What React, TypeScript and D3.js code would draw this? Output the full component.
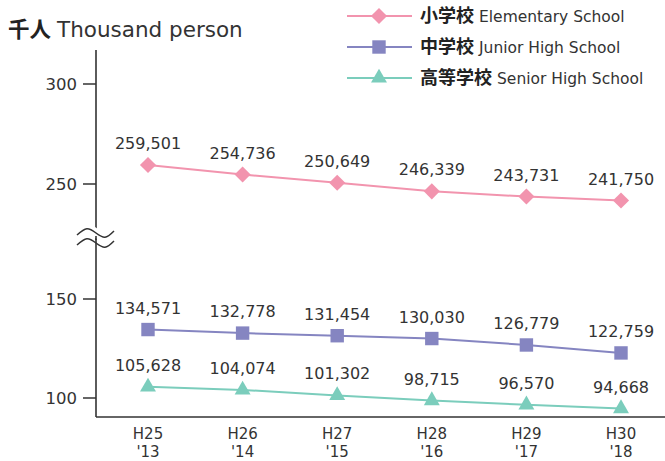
import React from 'react';
import * as d3 from 'd3';

const years = ['H25', 'H26', 'H27', 'H28', 'H29', 'H30'];
const yearsWestern = ["'13", "'14", "'15", "'16", "'17", "'18"];
const elementary = [259.501, 254.736, 250.649, 246.339, 243.731, 241.75];
const juniorHigh = [134.571, 132.778, 131.454, 130.03, 126.779, 122.759];
const seniorHigh = [105.628, 104.074, 101.302, 98.715, 96.57, 94.668];
const lowerTicks = [100, 150];
const upperTicks = [250, 300];

const FONT = '"DejaVu Sans", "Noto Sans CJK JP", sans-serif';
const CJK = '"Noto Sans CJK JP", sans-serif';
const INK = '#333';

const series = [
  { ja: '小学校', en: 'Elementary School', values: elementary, color: '#f294ae', shape: 'diamond' },
  { ja: '中学校', en: 'Junior High School', values: juniorHigh, color: '#8585c1', shape: 'square' },
  { ja: '高等学校', en: 'Senior High School', values: seniorHigh, color: '#7bcdbc', shape: 'triangle' },
];

const fmt = d3.format(',');

// two pieces of the broken y axis
const yLower = d3.scaleLinear().domain([100, 150]).range([398, 299]);
const yUpper = d3.scaleLinear().domain([250, 300]).range([184, 84]);
const y = (v: number) => (v < 200 ? yLower(v) : yUpper(v));

const x = d3.scalePoint<string>().domain(years).range([148, 621]);

const axisX = 96;
const axisBottom = 417;

const symbolFor = (shape: string) => {
  if (shape === 'diamond') return d3.symbol().type(d3.symbolSquare).size(130)();
  if (shape === 'square') return d3.symbol().type(d3.symbolSquare).size(180)();
  return d3.symbol().type(d3.symbolTriangle).size(110)();
};

const Marker = ({ shape, color, cx, cy }: { shape: string; color: string; cx: number; cy: number }) => (
  <path
    d={symbolFor(shape) || ''}
    fill={color}
    transform={`translate(${cx},${cy})${shape === 'diamond' ? ' rotate(45)' : ''}`}
  />
);

export default function App() {
  const line = d3.line<number>().x((_, i) => x(years[i]) as number).y(d => y(d));
  const wave = (yy: number) => `M77,${yy + 2} C86,${yy - 6} 88,${yy - 6} 96,${yy} C104,${yy + 6} 106,${yy + 6} 114,${yy - 2}`;

  return (
    <svg width={665} height={461} style={{ position: 'absolute', left: 0, top: 0, fontFamily: FONT }}>
      <rect width={665} height={461} fill="#fff" />

      <text x={8} y={37} fontSize={21.5} fill={INK}>
        <tspan fontFamily={CJK} fontWeight="bold" fill="#222">千人</tspan>
        <tspan dx={6}>Thousand person</tspan>
      </text>

      {/* axes */}
      <line x1={axisX} x2={axisX} y1={50} y2={axisBottom} stroke="#333" strokeWidth={1.6} />
      <line x1={axisX} x2={665} y1={axisBottom} y2={axisBottom} stroke="#333" strokeWidth={1.6} />
      <path d={wave(233)} fill="none" stroke="#fff" strokeWidth={9} />
      <path d={wave(233)} fill="none" stroke="#333" strokeWidth={1.5} />
      <path d={wave(243)} fill="none" stroke="#333" strokeWidth={1.5} />
      <line x1={axisX} x2={axisX} y1={236} y2={240} stroke="#333" strokeWidth={1.6} />

      {lowerTicks.map(t => (
        <g key={t}>
          <line x1={83} x2={axisX} y1={yLower(t)} y2={yLower(t)} stroke="#333" strokeWidth={1.5} />
          <text x={77} y={yLower(t) + 6} textAnchor="end" fontSize={16.5} fill={INK}>{t}</text>
        </g>
      ))}
      {upperTicks.map(t => (
        <g key={t}>
          <line x1={83} x2={axisX} y1={yUpper(t)} y2={yUpper(t)} stroke="#333" strokeWidth={1.5} />
          <text x={77} y={yUpper(t) + 6} textAnchor="end" fontSize={16.5} fill={INK}>{t}</text>
        </g>
      ))}

      {years.map((yr, i) => (
        <g key={yr}>
          <text x={x(yr)} y={439} textAnchor="middle" fontSize={15} fill={INK}>{yr}</text>
          <text x={x(yr)} y={457} textAnchor="middle" fontSize={15} fill={INK}>{yearsWestern[i]}</text>
        </g>
      ))}

      {series.map(s => (
        <g key={s.en}>
          <path d={line(s.values) || ''} fill="none" stroke={s.color} strokeWidth={2} />
          {s.values.map((v, i) => (
            <g key={i}>
              <Marker shape={s.shape} color={s.color} cx={x(years[i]) as number} cy={y(v)} />
              <text x={x(years[i])} y={y(v) - 16} textAnchor="middle" fontSize={16} fill={INK}>
                {fmt(Math.round(v * 1000))}
              </text>
            </g>
          ))}
        </g>
      ))}

      {/* legend */}
      {series.map((s, i) => {
        const ly = 16 + i * 31;
        return (
          <g key={s.en}>
            <line x1={347} x2={412} y1={ly} y2={ly} stroke={s.color} strokeWidth={2} />
            <Marker shape={s.shape} color={s.color} cx={379} cy={ly} />
            <text x={420} y={ly + 6} fontSize={15.5} fill={INK}>
              <tspan fontFamily={CJK} fontSize={18} fontWeight="bold" fill="#222">{s.ja}</tspan>
              <tspan dx={5}>{s.en}</tspan>
            </text>
          </g>
        );
      })}
    </svg>
  );
}
